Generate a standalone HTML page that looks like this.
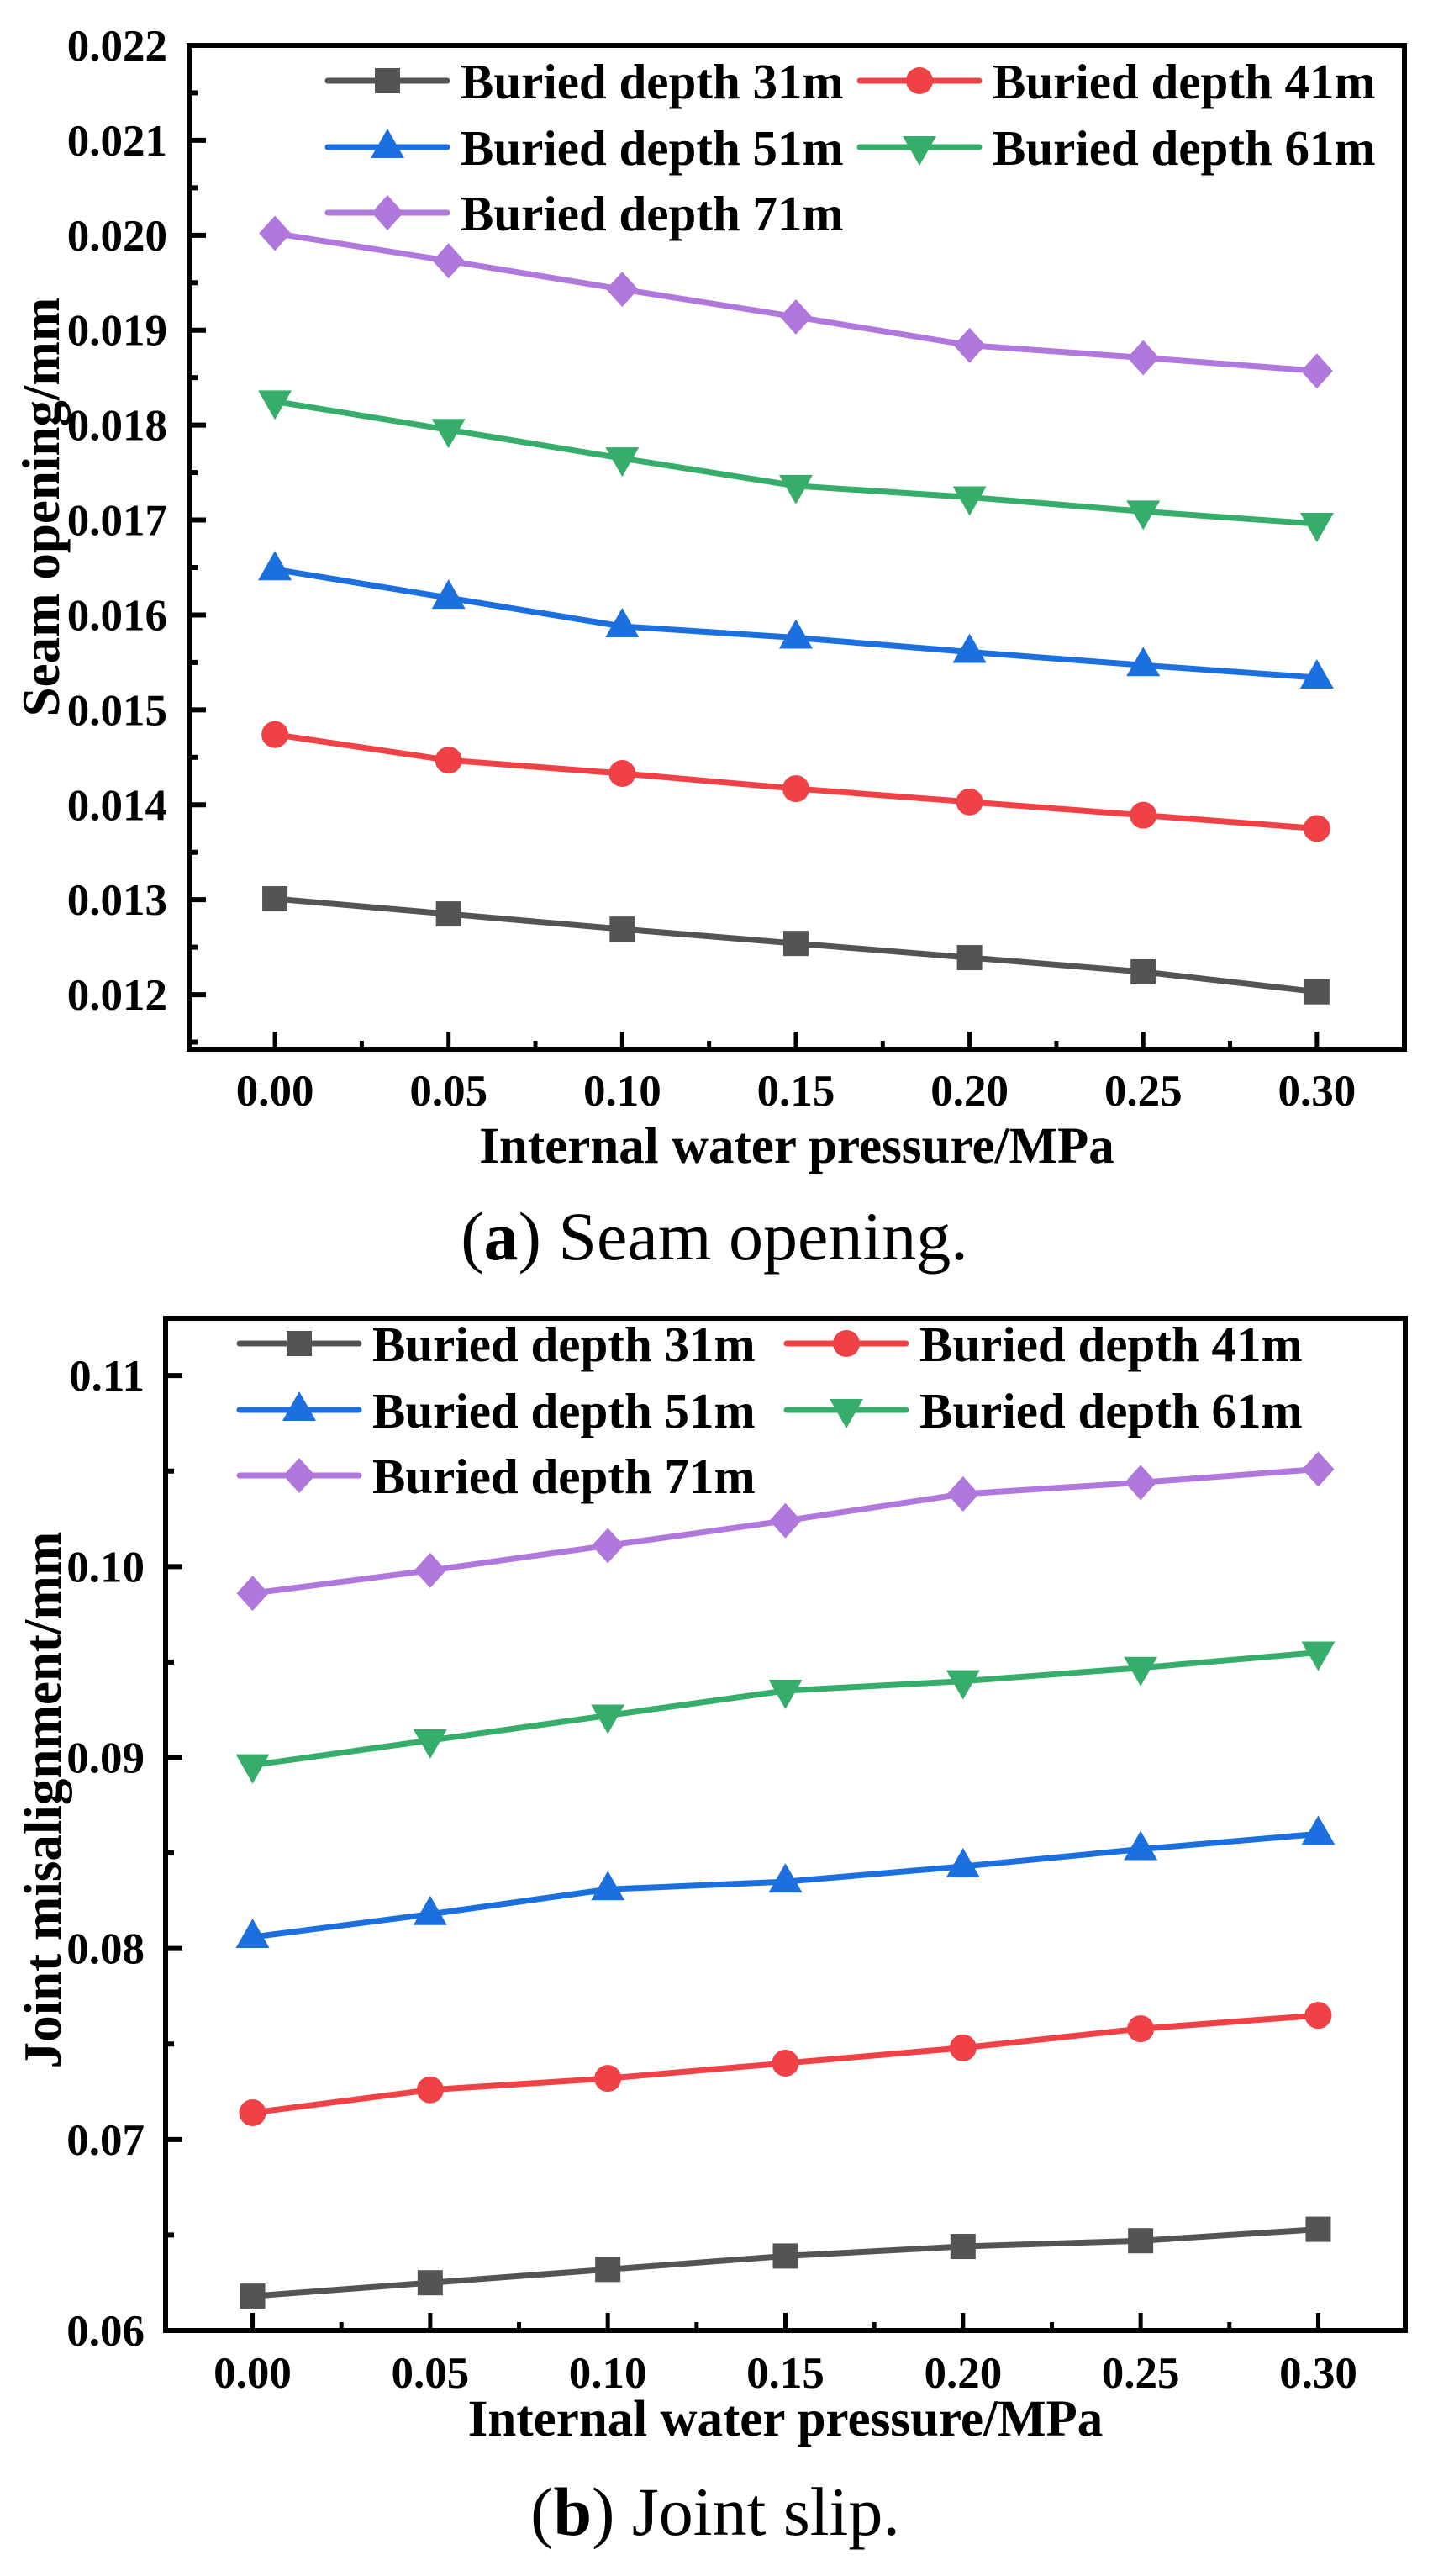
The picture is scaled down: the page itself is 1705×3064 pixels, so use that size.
<!DOCTYPE html>
<html><head><meta charset="utf-8"><style>
html,body{margin:0;padding:0;background:#fff}
svg{display:block}
text{font-family:"Liberation Serif","Times New Roman",serif}
</style></head><body>
<svg id="fig" width="1705" height="3064" viewBox="0 0 1705 3064" xmlns="http://www.w3.org/2000/svg">
<text x="850" y="1498" font-size="82" text-anchor="middle">(<tspan font-weight="bold">a</tspan>) Seam opening.</text>
<text x="851" y="3015" font-size="82" text-anchor="middle">(<tspan font-weight="bold">b</tspan>) Joint slip.</text>
</svg>
<script>
const xCategories = [0, 0.05, 0.10, 0.15, 0.20, 0.25, 0.30];
const xTickLabels = ["0.00","0.05","0.10","0.15","0.20","0.25","0.30"];
const seriesNames = ["Buried depth 31m","Buried depth 41m","Buried depth 51m","Buried depth 61m","Buried depth 71m"];
const seamD31 = [0.01301,0.01285,0.01269,0.01254,0.01239,0.01224,0.01203];
const seamD41 = [0.01474,0.01447,0.01433,0.01417,0.01403,0.01389,0.01375];
const seamD51 = [0.01648,0.01618,0.01588,0.01576,0.01561,0.01547,0.01534];
const seamD61 = [0.01825,0.01795,0.01765,0.01736,0.01724,0.01709,0.01696];
const seamD71 = [0.02002,0.01973,0.01943,0.01914,0.01884,0.01871,0.01857];
const seamYTicks = [0.012,0.013,0.014,0.015,0.016,0.017,0.018,0.019,0.020,0.021,0.022];
const seamYTickLabels = ["0.012","0.013","0.014","0.015","0.016","0.017","0.018","0.019","0.020","0.021","0.022"];
const slipD31 = [0.0618,0.0625,0.0632,0.0639,0.0644,0.0647,0.0653];
const slipD41 = [0.0714,0.0726,0.0732,0.0740,0.0748,0.0758,0.0765];
const slipD51 = [0.0806,0.0818,0.0831,0.0835,0.0843,0.0852,0.0860];
const slipD61 = [0.0896,0.0909,0.0922,0.0935,0.0940,0.0947,0.0955];
const slipD71 = [0.0986,0.0998,0.1011,0.1024,0.1038,0.1044,0.1051];
const slipYTicks = [0.06,0.07,0.08,0.09,0.10,0.11];
const slipYTickLabels = ["0.06","0.07","0.08","0.09","0.10","0.11"];

const NS="http://www.w3.org/2000/svg";
const svg=document.getElementById('fig');
const colors=["#545454","#EF4146","#1B6FDE","#37AD6B","#B078DD"];
const shapes=["square","circle","triangle","tridown","diamond"];
function mk(tag,attrs,parent){const e=document.createElementNS(NS,tag);for(const k in attrs)e.setAttribute(k,attrs[k]);(parent||svg).appendChild(e);return e;}
function marker(g,shape,cx,cy,col){
  let e;
  if(shape==="square"){e=mk('rect',{x:cx-15,y:cy-15,width:30,height:30,fill:col},g);}
  else if(shape==="circle"){e=mk('circle',{cx:cx,cy:cy,r:16,fill:col},g);}
  else if(shape==="triangle"){e=mk('polygon',{points:`${cx},${cy-22} ${cx+20},${cy+13} ${cx-20},${cy+13}`,fill:col},g);}
  else if(shape==="tridown"){e=mk('polygon',{points:`${cx},${cy+22} ${cx+20},${cy-13} ${cx-20},${cy-13}`,fill:col},g);}
  else {e=mk('polygon',{points:`${cx},${cy-21} ${cx+19},${cy} ${cx},${cy+21} ${cx-19},${cy}`,fill:col},g);}
  return e;
}
function chart(cfg){
  const g=mk('g',{});
  
  
  const X=v=>cfg.L+(v-cfg.xmin)/(cfg.xmax-cfg.xmin)*(cfg.R-cfg.L);
  const Y=v=>cfg.B-(v-cfg.ymin)/(cfg.ymax-cfg.ymin)*(cfg.B-cfg.T);
  cfg.yticks.forEach((v,i)=>{
    const y=Y(v);
    const t=mk('line',{x1:cfg.L,x2:cfg.L+20,y1:y,y2:y,stroke:'#000','stroke-width':6},g);
    
    
    const lb=mk('text',{x:cfg.ylabX,y:y+18,'font-size':cfg.tickFs,'font-weight':'bold','text-anchor':'end'},g);
    lb.textContent=cfg.ylabels[i];
    
    
    if(i<cfg.yticks.length-1){
      const ym=Y(v+(cfg.yticks[1]-cfg.yticks[0])/2);
      const m=mk('line',{x1:cfg.L,x2:cfg.L+10,y1:ym,y2:ym,stroke:'#000','stroke-width':6},g);
      
      
    }
  });
  if(cfg.minorBelow){const ym=Y(cfg.yticks[0]-(cfg.yticks[1]-cfg.yticks[0])/2);if(ym<cfg.B){const m=mk('line',{x1:cfg.L,x2:cfg.L+10,y1:ym,y2:ym,stroke:'#000','stroke-width':6},g);}}
  xCategories.forEach((v,i)=>{
    const x=X(v);
    const t=mk('line',{x1:x,x2:x,y1:cfg.B,y2:cfg.B-21,stroke:'#000','stroke-width':5},g);
    
    
    const lb=mk('text',{x:x,y:cfg.xlabY,'font-size':cfg.tickFs,'font-weight':'bold','text-anchor':'middle'},g);
    lb.textContent=xTickLabels[i];
    
    
    if(i<xCategories.length-1){
      const xm=X(v+0.025);
      const m=mk('line',{x1:xm,x2:xm,y1:cfg.B,y2:cfg.B-10,stroke:'#000','stroke-width':5},g);
      
      
    }
  });
  cfg.series.forEach((arr,si)=>{
    const sg=mk('g',{},g);
    
    
    const pts=arr.map((v,i)=>X(xCategories[i])+','+Y(v)).join(' ');
    const pl=mk('polyline',{points:pts,fill:'none',stroke:colors[si],'stroke-width':7,'stroke-linejoin':'round'},sg);
    
    
    arr.forEach((v,i)=>{
      const mm=marker(sg,shapes[si],X(xCategories[i]),Y(v),colors[si]);
      
      
    });
  });
  const fr=mk('rect',{x:cfg.L,y:cfg.T,width:cfg.R-cfg.L,height:cfg.B-cfg.T,fill:'none',stroke:'#000','stroke-width':6},g);
  
  
  const lg=mk('g',{},g);
  
  
  seriesNames.forEach((n,si)=>{
    const col=si%2, row=Math.floor(si/2);
    const x0=cfg.legCols[col], y=cfg.legRows[row];
    const eg=mk('g',{},lg);
    
    
    mk('line',{x1:x0,x2:x0+142,y1:y,y2:y,stroke:colors[si],'stroke-width':7,'stroke-linecap':'round'},eg);
    marker(eg,shapes[si],x0+71,y,colors[si]);
    const t=mk('text',{x:x0+158,y:y+21,'font-size':cfg.legFs,'font-weight':'bold'},eg);
    t.textContent=n;
  });
  const xt=mk('text',{x:(cfg.L+cfg.R)/2,y:cfg.xTitleY,'font-size':cfg.titleFs,'font-weight':'bold','text-anchor':'middle'},g);
  xt.textContent="Internal water pressure/MPa";
  
  
  const yt=mk('text',{x:0,y:0,'font-size':cfg.titleFs+2,'font-weight':'bold','text-anchor':'middle',transform:`translate(${cfg.yTitleX},${cfg.yTitleY}) rotate(-90)`},g);
  yt.textContent=cfg.yTitle;
  
  
}
chart({name:'chart-seam-opening',L:225,R:1671,T:54,B:1248,xmin:-0.0247,xmax:0.3252,ymin:0.011425,ymax:0.022,
  yticks:seamYTicks,ylabels:seamYTickLabels,series:[seamD31,seamD41,seamD51,seamD61,seamD71],
  ylabX:199,xlabY:1315,tickFs:53,legFs:59,titleFs:61,xTitleY:1383,yTitle:"Seam opening/mm",yTitleX:70,yTitleY:603,
  legCols:[390,1023],legRows:[96,175,253],minorBelow:true});
chart({name:'chart-joint-slip',L:197,R:1672,T:1568,B:2772,xmin:-0.0245,xmax:0.3245,ymin:0.06,ymax:0.1130,
  yticks:slipYTicks,ylabels:slipYTickLabels,series:[slipD31,slipD41,slipD51,slipD61,slipD71],
  ylabX:172,xlabY:2840,tickFs:53,legFs:59,titleFs:61,xTitleY:2897,yTitle:"Joint misalignment/mm",yTitleX:72,yTitleY:2141,
  legCols:[285,936],legRows:[1598,1677,1755],minorBelow:false});
</script>
</body></html>
